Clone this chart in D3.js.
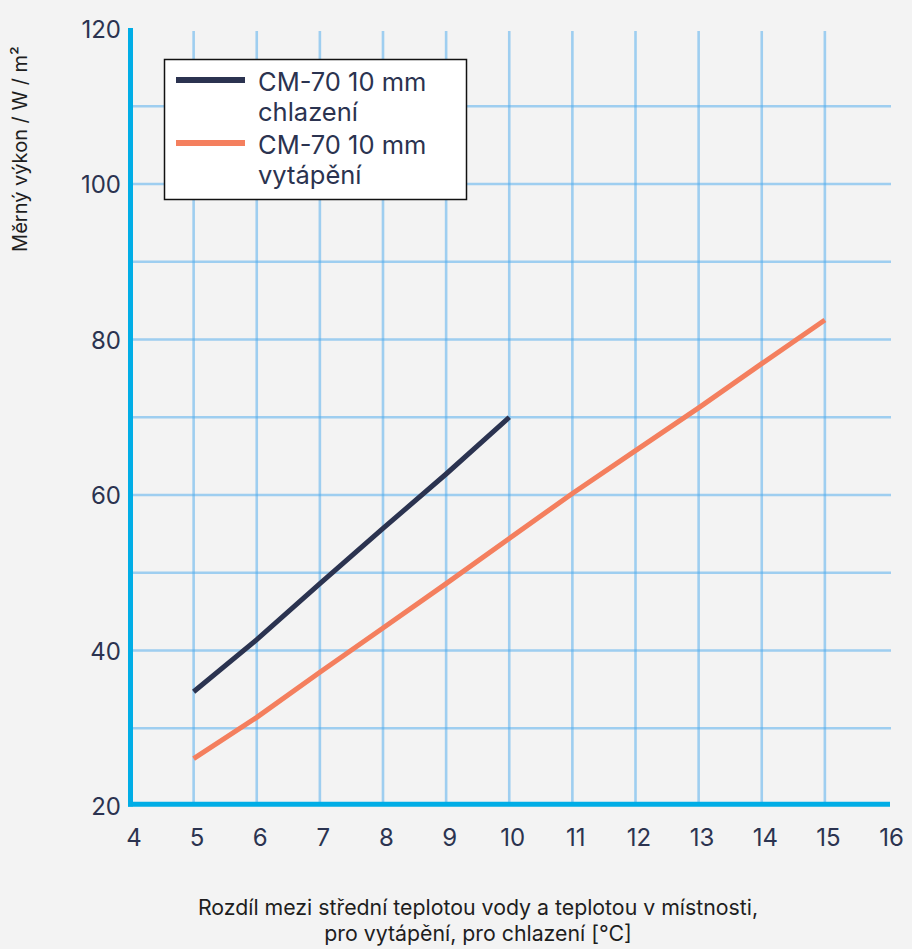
<!DOCTYPE html>
<html>
<head>
<meta charset="utf-8">
<script src="https://cdn.jsdelivr.net/npm/d3@7"></script>
<style>
  html, body { margin: 0; padding: 0; background: #f3f3f3; }
  svg { display: block; }
  text { font-family: Inter, "Noto Sans", sans-serif; }
</style>
</head>
<body>
<svg id="chart" width="912" height="949"></svg>
<script>
// ---- data ----
const xTicks = [4, 5, 6, 7, 8, 9, 10, 11, 12, 13, 14, 15, 16];
const yTicks = [20, 40, 60, 80, 100, 120];
const yGrid = [30, 40, 50, 60, 70, 80, 90, 100, 110];
const xGrid = [5, 6, 7, 8, 9, 10, 11, 12, 13, 14, 15];

const coolingX = [5, 6, 7, 8, 9, 10];
const coolingY = [34.7, 41.4, 48.6, 55.7, 62.7, 70.0];
const heatingX = [5, 6, 7, 8, 9, 10, 11, 12, 13, 14, 15];
const heatingY = [26.1, 31.4, 37.2, 42.9, 48.6, 54.4, 60.2, 65.7, 71.2, 76.9, 82.5];

const seriesNames = ["CM-70 10 mm\nchlazení", "CM-70 10 mm\nvytápění"];
const seriesColors = ["#2b3350", "#f47f5e"];

const yTitle = "Měrný výkon / W / m²";
const xTitle = ["Rozdíl mezi střední teplotou vody a teplotou v místnosti,", "pro vytápění, pro chlazení [°C]"];

// ---- layout ----
const svg = d3.select("#chart");
const x = d3.scaleLinear().domain([4, 16]).range([130.5, 888]);
const y = d3.scaleLinear().domain([20, 120]).range([806, 28.5]);

const gridColor = "#4aaaee";
const axisColor = "#00ade6";
const textColor = "#2b3350";
const FONT = "Inter, 'Noto Sans', sans-serif";

// grid
const grid = svg.append("g");
grid.selectAll("line.v").data(xGrid).join("line")
  .attr("x1", d => x(d)).attr("x2", d => x(d))
  .attr("y1", 31).attr("y2", y(20))
  .attr("stroke", gridColor).attr("stroke-opacity", 0.5).attr("stroke-width", 2.6);
grid.selectAll("line.h").data(yGrid).join("line")
  .attr("x1", x(4)).attr("x2", 891)
  .attr("y1", d => y(d)).attr("y2", d => y(d))
  .attr("stroke", gridColor).attr("stroke-opacity", 0.5).attr("stroke-width", 2.6);

// axes (lines)
svg.append("line").attr("x1", x(4)).attr("x2", x(4)).attr("y1", 28).attr("y2", 806.5)
  .attr("stroke", axisColor).attr("stroke-width", 5);
svg.append("line").attr("x1", 128).attr("x2", 890).attr("y1", 804.2).attr("y2", 804.2)
  .attr("stroke", axisColor).attr("stroke-width", 5);

// tick labels via d3 axes (no domain/tick lines)
const xAxis = svg.append("g").attr("transform", "translate(3,0)")
  .call(d3.axisBottom(x).tickValues(xTicks).tickFormat(d3.format("d")).tickSize(0));
xAxis.attr("font-size", null).attr("font-family", null);
xAxis.select(".domain").remove();
xAxis.selectAll("text")
  .attr("y", 846).attr("dy", 0)
  .style("font-size", "24px").style("fill", textColor)
  .style("font-family", FONT);

const yAxis = svg.append("g").attr("transform", "translate(121,0)")
  .call(d3.axisLeft(y).tickValues(yTicks).tickFormat(d3.format("d")).tickSize(0).tickPadding(0));
yAxis.attr("font-size", null).attr("font-family", null);
yAxis.select(".domain").remove();
yAxis.selectAll("text")
  .attr("dy", "0.36em")
  .style("font-size", "24px").style("fill", textColor)
  .style("font-family", FONT);

// series lines
const line = d3.line().x(d => x(d[0])).y(d => y(d[1]));
const series = [
  d3.zip(coolingX, coolingY),
  d3.zip(heatingX, heatingY)
];
svg.selectAll("path.series").data(series).join("path")
  .attr("class", "series")
  .attr("d", line)
  .attr("fill", "none")
  .attr("stroke", (d, i) => seriesColors[i])
  .attr("stroke-width", 5);

// legend
const lg = svg.append("g");
lg.append("rect").attr("x", 164.5).attr("y", 59.5).attr("width", 302).attr("height", 140)
  .attr("fill", "#ffffff").attr("stroke", "#111").attr("stroke-width", 1.5);
seriesNames.forEach((name, i) => {
  const y0 = 80 + i * 63;
  lg.append("line").attr("x1", 176).attr("x2", 245).attr("y1", y0).attr("y2", y0)
    .attr("stroke", seriesColors[i]).attr("stroke-width", 6);
  const t = lg.append("text").attr("x", 258).attr("y", y0 + 11)
    .style("font-size", "25.5px").style("fill", textColor);
  name.split("\n").forEach((s, k) => {
    t.append("tspan").attr("x", 258).attr("dy", k === 0 ? 0 : 29.5).text(s);
  });
});

// axis titles
svg.append("text")
  .attr("transform", "translate(27,149) rotate(-90)")
  .attr("text-anchor", "middle")
  .style("font-size", "20px").style("fill", "#1e1e1e")
  .text(yTitle);

svg.append("text").attr("text-anchor", "middle")
  .style("font-size", "21.3px").style("fill", "#1e1e1e")
  .selectAll("tspan").data(xTitle).join("tspan")
  .attr("x", 478).attr("y", (d, i) => 915 + i * 26)
  .text(d => d);
</script>
</body>
</html>
